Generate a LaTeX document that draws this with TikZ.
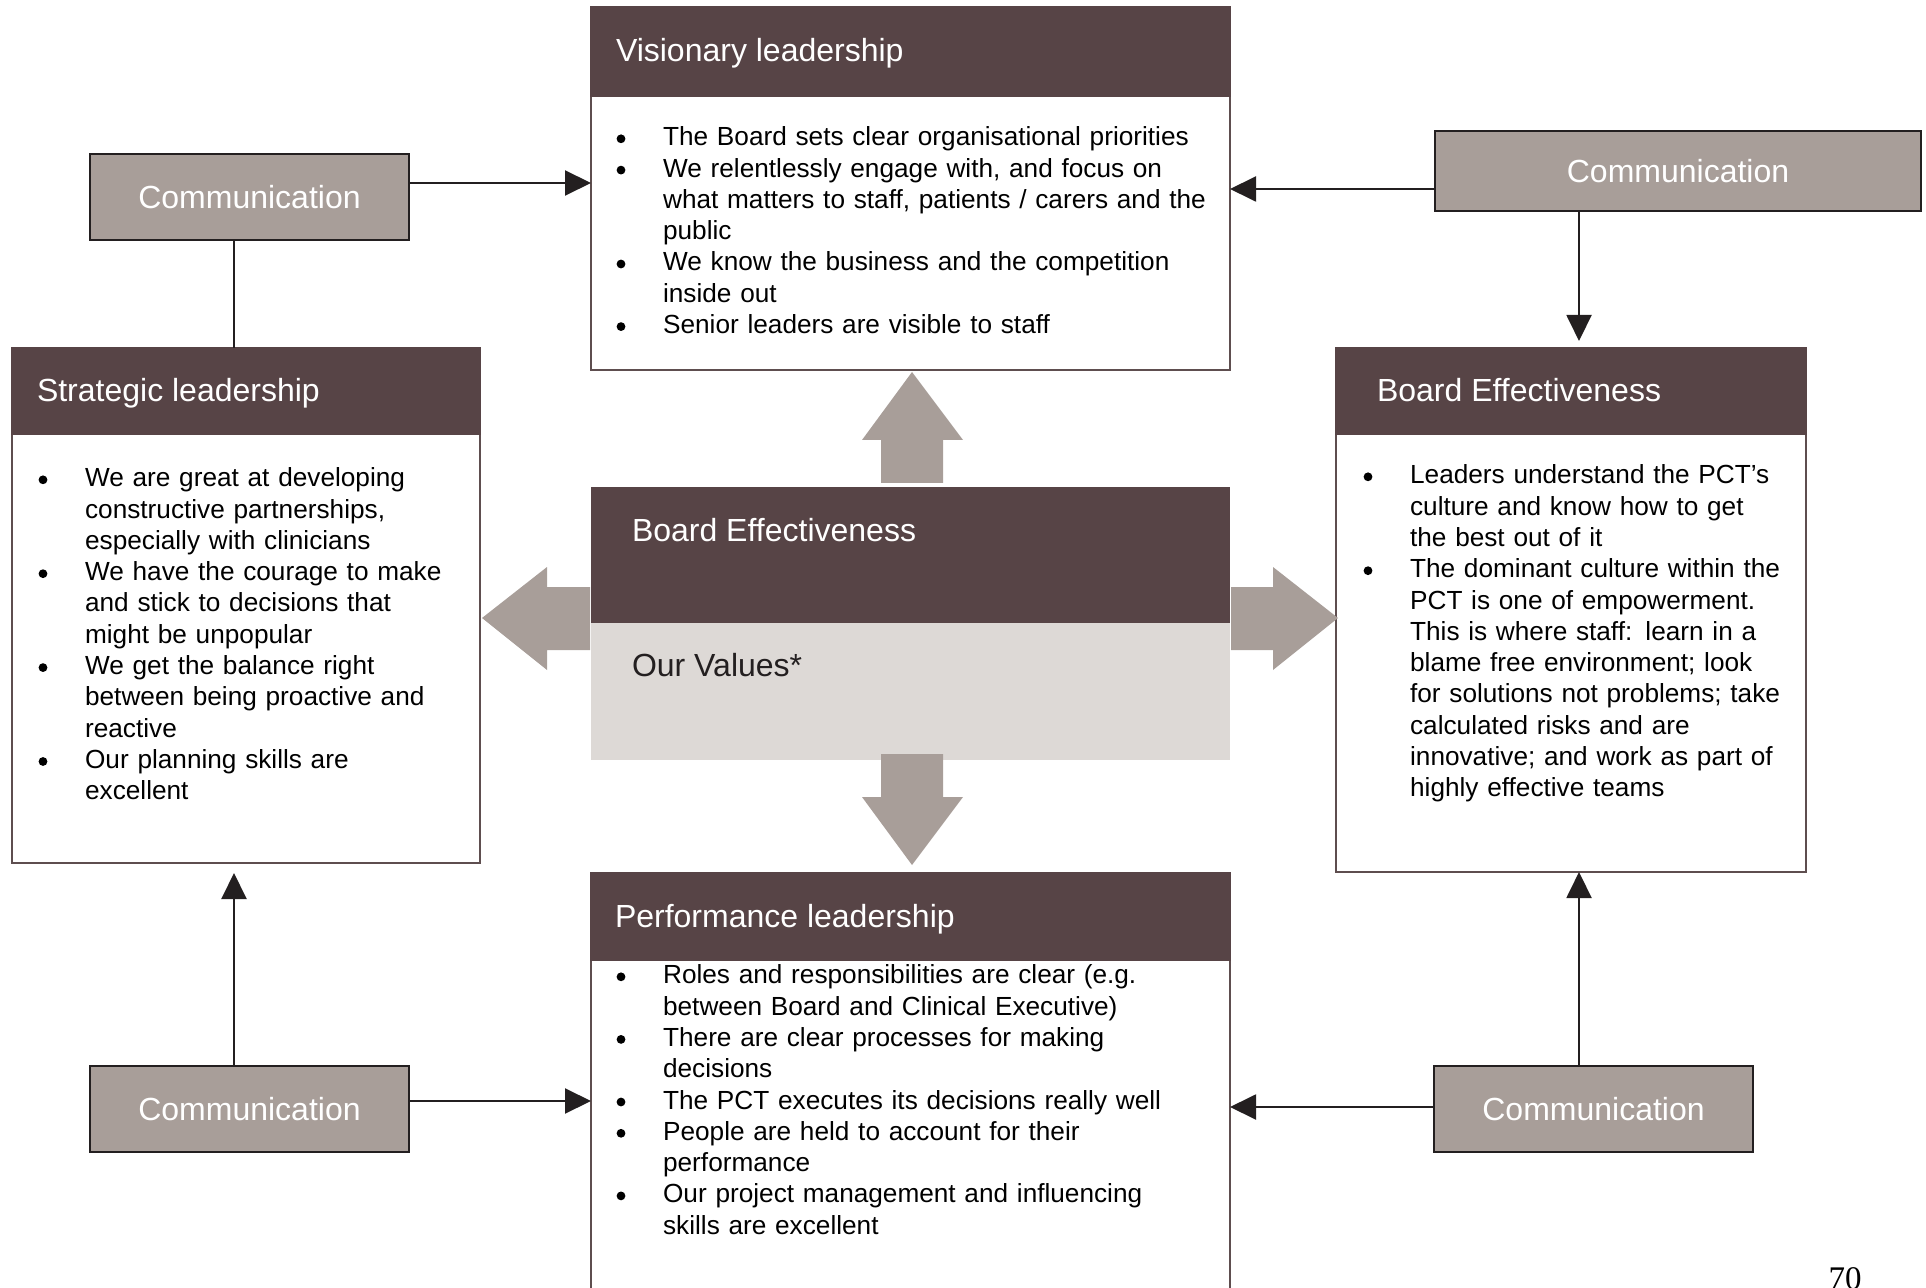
\documentclass[tikz,border=0pt]{standalone}
\usepackage{fontspec}
\setmainfont{Liberation Sans}
\newfontfamily\pagefont{Liberation Serif}
\usetikzlibrary{arrows.meta}

\definecolor{headcol}{HTML}{574446}
\definecolor{commcol}{HTML}{A89E99}
\definecolor{valuecol}{HTML}{DDD9D6}
\definecolor{edgecol}{HTML}{231F20}
\definecolor{framecol}{HTML}{5E4E4F}

\newcommand\dotmark{\tikz[baseline=0pt]\fill[black] (0pt,3.5pt) circle (2.2pt);}
\newenvironment{pointlist}{\begin{list}{\dotmark}{\setlength{\leftmargin}{23.25pt}\setlength{\labelwidth}{23.25pt}\setlength{\labelsep}{0pt}\setlength{\itemindent}{0pt}\setlength{\itemsep}{0pt}\setlength{\parsep}{0pt}\setlength{\topsep}{0pt}\setlength{\partopsep}{0pt}\def\makelabel##1{##1\hfil}}}{\end{list}}

\begin{document}
\begin{tikzpicture}[x=0.5pt,y=-0.5pt,
    boxframe/.style={draw=framecol,line width=0.8pt,fill=white,anchor=north west},
    boxhead/.style={draw=headcol,line width=0.8pt,fill=headcol,anchor=north west},
    boxtitle/.style={text=white,font=\fontsize{16}{19}\selectfont,anchor=base west},
    commbox/.style={draw=edgecol,line width=1.2pt,fill=commcol,text=white,font=\fontsize{16}{19}\selectfont,anchor=north west},
    pointtext/.style={anchor=north west,text width=300pt,align=left,font=\fontsize{13.1}{15.65}\selectfont},
    link/.style={draw=edgecol,line width=1pt},
    linkarrow/.style={link,-{Triangle[length=13pt,width=12.5pt]}},
    blockarrow/.style={fill=commcol}]
    \tikzstyle{every node}+=[inner sep=0pt,outer sep=0pt]
    \clip (0,0) rectangle (1926,1288);

    \node [boxframe,minimum width=319.5pt,minimum height=181.5pt] (vis) at (591,7) {};
    \node [boxhead,minimum width=319.5pt,minimum height=44.5pt] (visHead) at (591,7) {};
    \node [boxtitle] (visTitle) at (616,62) {Visionary leadership};
    \node [pointtext] (visText) at (616.6,114.5) {\begin{pointlist}
        \item The Board sets clear organisational priorities
        \item We relentlessly engage with, and focus on\newline what matters to staff, patients / carers and the\newline public
        \item We know the business and the competition\newline inside out
        \item Senior leaders are visible to staff
    \end{pointlist}};

    \node [boxframe,minimum width=234pt,minimum height=257.5pt] (strat) at (12,348) {};
    \node [boxhead,minimum width=234pt,minimum height=43pt] (stratHead) at (12,348) {};
    \node [boxtitle] (stratTitle) at (37,402) {Strategic leadership};
    \node [pointtext] (stratText) at (38.6,455.5) {\begin{pointlist}
        \item We are great at developing\newline constructive partnerships,\newline especially with clinicians
        \item We have the courage to make\newline and stick to decisions that\newline might be unpopular
        \item We get the balance right\newline between being proactive and\newline reactive
        \item Our planning skills are\newline excellent
    \end{pointlist}};

    \node [boxframe,minimum width=235pt,minimum height=262pt] (board) at (1336,348) {};
    \node [boxhead,minimum width=235pt,minimum height=43pt] (boardHead) at (1336,348) {};
    \node [boxtitle] (boardTitle) at (1377,402) {Board Effectiveness};
    \node [pointtext] (boardText) at (1363.6,452.5) {\begin{pointlist}
        \item Leaders understand the PCT’s\newline culture and know how to get\newline the best out of it
        \item The dominant culture within the\newline PCT is one of empowerment.\newline This is where staff: learn in a\newline blame free environment; look\newline for solutions not problems; take\newline calculated risks and are\newline innovative; and work as part of\newline highly effective teams
    \end{pointlist}};

    \node [boxframe,minimum width=319.5pt,minimum height=213.5pt] (perf) at (591,873) {};
    \node [boxhead,minimum width=319.5pt,minimum height=43.5pt] (perfHead) at (591,873) {};
    \node [boxtitle] (perfTitle) at (615,927) {Performance leadership};
    \node [pointtext] (perfText) at (616.6,952.5) {\begin{pointlist}
        \item Roles and responsibilities are clear (e.g.\newline between Board and Clinical Executive)
        \item There are clear processes for making\newline decisions
        \item The PCT executes its decisions really well
        \item People are held to account for their\newline performance
        \item Our project management and influencing\newline skills are excellent
    \end{pointlist}};

    \node [fill=headcol,anchor=north west,minimum width=319.5pt,minimum height=68pt] (core) at (591,487) {};
    \node [fill=valuecol,anchor=north west,minimum width=319.5pt,minimum height=68.5pt] (values) at (591,623) {};
    \node [boxtitle] (coreTitle) at (632,541) {Board Effectiveness};
    \node [boxtitle,text=edgecol] (valuesTitle) at (632,676) {Our Values*};

    \fill [blockarrow] (881,483) -- (881,440) -- (862,440) -- (912,372) -- (963,440) -- (943,440) -- (943,483) -- cycle;
    \fill [blockarrow] (881,754) -- (881,797) -- (862,797) -- (912,865) -- (963,797) -- (943,797) -- (943,754) -- cycle;
    \fill [blockarrow] (590,587) -- (547,587) -- (547,567) -- (482,618) -- (547,670) -- (547,650) -- (590,650) -- cycle;
    \fill [blockarrow] (1231,587) -- (1273,587) -- (1273,567) -- (1338,618) -- (1273,670) -- (1273,650) -- (1231,650) -- cycle;

    \node [commbox,minimum width=159.5pt,minimum height=43pt] (commTL) at (90,154) {Communication};
    \node [commbox,minimum width=243pt,minimum height=40pt] (commTR) at (1435,131) {Communication};
    \node [commbox,minimum width=159.5pt,minimum height=43pt] (commBL) at (90,1066) {Communication};
    \node [commbox,minimum width=159.5pt,minimum height=43pt] (commBR) at (1434,1066) {Communication};

    \coordinate (tlRow) at (500,183);
    \coordinate (trRow) at (1300,189);
    \coordinate (blRow) at (500,1101);
    \coordinate (brRow) at (1300,1107);
    \coordinate (leftCol) at (234,700);
    \coordinate (rightCol) at (1579,700);

    \draw [linkarrow] (commTL.east |- tlRow) -- (vis.west |- tlRow);
    \draw [linkarrow] (commTR.west |- trRow) -- (vis.east |- trRow);
    \draw [linkarrow,shorten >=3.5pt] (commTR.south -| rightCol) -- (board.north -| rightCol);
    \draw [link] (commTL.south -| leftCol) -- (strat.north -| leftCol);
    \draw [linkarrow,shorten >=5pt] (commBL.north -| leftCol) -- (strat.south -| leftCol);
    \draw [linkarrow] (commBL.east |- blRow) -- (perf.west |- blRow);
    \draw [linkarrow] (commBR.west |- brRow) -- (perf.east |- brRow);
    \draw [linkarrow] (commBR.north -| rightCol) -- (board.south -| rightCol);

    \node [font=\pagefont\fontsize{16.5}{18}\selectfont,anchor=base] (pageNo) at (1845,1289) {70};
\end{tikzpicture}
\end{document}
